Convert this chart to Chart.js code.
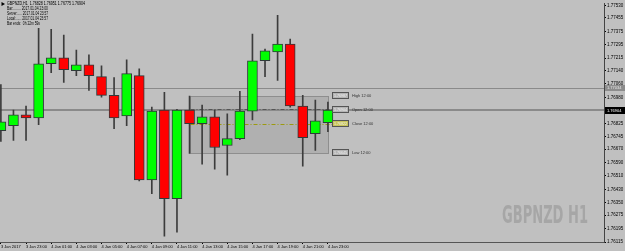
<!DOCTYPE html>
<html>
<head>
<meta charset="utf-8">
<script src="https://cdn.jsdelivr.net/npm/chart.js@4.4.1/dist/chart.umd.min.js"></script>
<style>
  html, body { margin: 0; padding: 0; background: #c0c0c0; overflow: hidden; }
  #wrap { width: 625px; height: 251px; }
</style>
</head>
<body>
<div id="wrap"><canvas id="chart" width="625" height="251"></canvas></div>
<script>
// hourly bars, 3 Jan 21:00 .. 4 Jan 23:00
const timeLabels = [
  "3 Jan 2017", "3 Jan 22:00", "3 Jan 23:00", "4 Jan 00:00", "4 Jan 01:00", "4 Jan 02:00",
  "4 Jan 03:00", "4 Jan 04:00", "4 Jan 05:00", "4 Jan 06:00", "4 Jan 07:00", "4 Jan 08:00",
  "4 Jan 09:00", "4 Jan 10:00", "4 Jan 11:00", "4 Jan 12:00", "4 Jan 13:00", "4 Jan 14:00",
  "4 Jan 15:00", "4 Jan 16:00", "4 Jan 17:00", "4 Jan 18:00", "4 Jan 19:00", "4 Jan 20:00",
  "4 Jan 21:00", "4 Jan 22:00", "4 Jan 23:00"
];
const opens  = [1.76780, 1.76810, 1.76875, 1.76857, 1.77181, 1.77216, 1.77140, 1.77175, 1.77104,
                1.76992, 1.76869, 1.77110, 1.76486, 1.76904, 1.76374, 1.76904, 1.76822, 1.76863,
                1.76692, 1.76733, 1.76898, 1.77199, 1.77252, 1.77299, 1.76928, 1.76763, 1.76828];
const highs  = [1.77057, 1.76904, 1.76928, 1.77393, 1.77387, 1.77352, 1.77263, 1.77234, 1.77169,
                1.77098, 1.77204, 1.77151, 1.76922, 1.77010, 1.76908, 1.76987, 1.76934, 1.76904,
                1.76881, 1.77016, 1.77358, 1.77269, 1.77470, 1.77328, 1.76992, 1.76963, 1.76951];
const lows   = [1.76716, 1.76722, 1.76722, 1.76816, 1.77128, 1.77069, 1.77110, 1.77022, 1.76981,
                1.76792, 1.76810, 1.76480, 1.76404, 1.76150, 1.76174, 1.76645, 1.76580, 1.76551,
                1.76515, 1.76727, 1.76845, 1.77104, 1.77081, 1.76922, 1.76569, 1.76663, 1.76775];
const closes = [1.76833, 1.76875, 1.76857, 1.77181, 1.77216, 1.77146, 1.77175, 1.77110, 1.76992,
                1.76857, 1.77122, 1.76486, 1.76898, 1.76374, 1.76904, 1.76822, 1.76863, 1.76680,
                1.76733, 1.76898, 1.77199, 1.77258, 1.77299, 1.76928, 1.76739, 1.76839, 1.76904];

const priceTicks = [1.76115, 1.76195, 1.76275, 1.76350, 1.76430, 1.76510, 1.76590, 1.76670,
                    1.76745, 1.76825, 1.76905, 1.76980, 1.77060, 1.77140, 1.77215, 1.77295,
                    1.77375, 1.77455, 1.77530];

// objects on the chart
const levelLine = 1.77034;
const lastPrice = 1.76904;
const boxStart = 15, boxEnd = 26;
const boxHigh = 1.76987, boxOpen = 1.76904, boxClose = 1.76822, boxLow = 1.76645;

const infoLines = [
  "GBPNZD,H1  1.76828 1.76951 1.76775 1.76904",
  "Bar:........ 2017.01.04 23:00",
  "Server:..... 2017.01.04 23:57",
  "Local:...... 2017.01.04 23:57",
  "Bar ends:  0h 22m 59s"
];

const UP = "#00ff00", DOWN = "#ff0000";
const bodyColors = opens.map((o, i) => closes[i] >= o ? UP : DOWN);

const tinyFont = '"Liberation Sans", Arial, sans-serif';

const overlay = {
  id: "overlay",
  beforeDraw(chart) {
    const ctx = chart.ctx;
    ctx.save();
    ctx.fillStyle = "#c0c0c0";
    ctx.fillRect(0, 0, chart.width, chart.height);
    ctx.restore();
  },
  beforeDatasetsDraw(chart) {
    const { ctx, chartArea: a, scales: { x, y } } = chart;
    ctx.save();
    // range box
    const bx1 = Math.round(x.getPixelForValue(boxStart)) + 0.5;
    const bx2 = Math.round(x.getPixelForValue(boxEnd)) + 0.5;
    const by1 = Math.round(y.getPixelForValue(boxHigh)) + 0.5;
    const by2 = Math.round(y.getPixelForValue(boxLow)) + 0.5;
    ctx.fillStyle = "rgba(135,135,135,0.28)";
    ctx.fillRect(bx1, by1, bx2 - bx1, by2 - by1);
    ctx.strokeStyle = "#8e8e8e";
    ctx.lineWidth = 1;
    ctx.strokeRect(bx1, by1, bx2 - bx1, by2 - by1);

    // horizontal level + last price line
    ctx.strokeStyle = "#8a8a8a";
    let yy = Math.round(y.getPixelForValue(levelLine)) + 0.5;
    ctx.beginPath(); ctx.moveTo(a.left, yy); ctx.lineTo(a.right, yy); ctx.stroke();
    ctx.lineWidth = 2;
    yy = Math.round(y.getPixelForValue(lastPrice));
    ctx.beginPath(); ctx.moveTo(a.left, yy); ctx.lineTo(a.right, yy); ctx.stroke();

    // open / close dash-dot lines
    ctx.lineWidth = 1;
    ctx.setLineDash([4, 2, 1, 2]);
    ctx.strokeStyle = "#555555";
    yy = Math.round(y.getPixelForValue(boxOpen)) - 0.5;
    ctx.beginPath(); ctx.moveTo(bx1, yy); ctx.lineTo(bx2 + 4, yy); ctx.stroke();
    ctx.strokeStyle = "#9c9a10";
    yy = Math.round(y.getPixelForValue(boxClose)) + 0.5;
    ctx.beginPath(); ctx.moveTo(bx1, yy); ctx.lineTo(bx2 + 4, yy); ctx.stroke();
    ctx.restore();
  },
  afterDraw(chart) {
    const { ctx, chartArea: a, scales: { x, y } } = chart;
    ctx.save();
    ctx.textBaseline = "middle";

    // box labels
    const lx = Math.round(x.getPixelForValue(boxEnd)) + 4;
    const tags = [
      [boxHigh, "High 12:00", "#b4b4b4"],
      [boxOpen, "Open 12:00", "#b4b4b4"],
      [boxClose, "Close 12:00", "#c8c45a"],
      [boxLow, "Low 12:00", "#b4b4b4"]
    ];
    tags.forEach(([p, txt, bg]) => {
      const py = Math.round(y.getPixelForValue(p));
      ctx.fillStyle = bg;
      ctx.fillRect(lx + 0.5, py - 3.5, 16, 6);
      ctx.strokeStyle = "#555";
      ctx.lineWidth = 1;
      ctx.strokeRect(lx + 0.5, py - 3.5, 16, 6);
      ctx.fillStyle = "#f4f4f4";
      ctx.font = "4px " + tinyFont;
      ctx.textAlign = "left";
      ctx.fillText(p.toFixed(5), lx + 2, py, 13);
      ctx.fillStyle = "#333";
      ctx.fillText(txt, lx + 20, py, 22);
    });

    // right axis price tags
    let py = Math.round(y.getPixelForValue(levelLine));
    ctx.fillStyle = "#8c8c8c";
    ctx.fillRect(a.right + 1, py - 3, 20, 6);
    ctx.fillStyle = "#e8e8e8";
    ctx.fillText(levelLine.toFixed(5), a.right + 3, py, 16);
    py = Math.round(y.getPixelForValue(lastPrice));
    ctx.fillStyle = "#000";
    ctx.fillRect(a.right + 1, py - 3, 20, 7);
    ctx.fillStyle = "#fff";
    ctx.fillText(lastPrice.toFixed(5), a.right + 3, py + 0.5, 16);

    // info block
    ctx.fillStyle = "#000";
    ctx.font = "5px " + tinyFont;
    const widths = [78, 41, 41, 41, 33];
    infoLines.forEach((t, i) => ctx.fillText(t, 7, 4 + i * 5, widths[i]));
    ctx.beginPath();
    ctx.moveTo(1.5, 2); ctx.lineTo(5, 4); ctx.lineTo(1.5, 6); ctx.closePath();
    ctx.fill();

    // watermark
    ctx.fillStyle = "#a6a6a6";
    ctx.font = 'bold 24px "Liberation Sans Narrow", "DejaVu Sans Condensed", Arial, sans-serif';
    ctx.textBaseline = "alphabetic";
    ctx.fillText("GBPNZD H1", 502, 223, 86);
    ctx.restore();
  }
};

new Chart(document.getElementById("chart"), {
  type: "bar",
  data: {
    datasets: [
      {
        label: "body",
        data: opens.map((o, i) => ({ x: i, y: [o, closes[i]] })),
        backgroundColor: bodyColors,
        borderColor: "#2f3a3a",
        borderWidth: 1,
        borderSkipped: false,
        barThickness: 10,
        grouped: false,
        order: 0
      },
      {
        label: "wick",
        data: lows.map((l, i) => ({ x: i, y: [l, highs[i]] })),
        backgroundColor: "#3c3c3c",
        borderWidth: 0,
        barThickness: 1,
        grouped: false,
        order: 1
      }
    ]
  },
  options: {
    responsive: false,
    animation: false,
    devicePixelRatio: 1,
    layout: { padding: 0 },
    plugins: { legend: { display: false }, tooltip: { enabled: false } },
    scales: {
      x: {
        type: "linear",
        offset: false,
        min: -0.07,
        max: 47.95,
        afterBuildTicks: (s) => {
          s.ticks = timeLabels.map((_, i) => i).filter(i => i % 2 === 0).map(v => ({ value: v }));
        },
        afterFit: (s) => { s.height = 9; },
        ticks: {
          callback: (v) => timeLabels[v],
          align: "start",
          autoSkip: false,
          maxRotation: 0,
          padding: 0,
          color: "#000",
          font: { size: 4, family: tinyFont }
        },
        grid: { drawOnChartArea: false, offset: false, tickLength: 2, color: "#000" },
        border: { color: "#555", width: 1 }
      },
      y: {
        type: "linear",
        position: "right",
        min: 1.76115,
        max: 1.77540,
        afterBuildTicks: (s) => { s.ticks = priceTicks.map(v => ({ value: v })); },
        afterFit: (s) => { s.width = 21; },
        ticks: {
          callback: (v) => v.toFixed(5),
          padding: 1,
          color: "#000",
          font: { size: 4.5, family: tinyFont }
        },
        grid: { drawOnChartArea: false, tickLength: 2, color: "#000" },
        border: { color: "#444", width: 1 }
      }
    }
  },
  plugins: [overlay]
});
</script>
</body>
</html>
